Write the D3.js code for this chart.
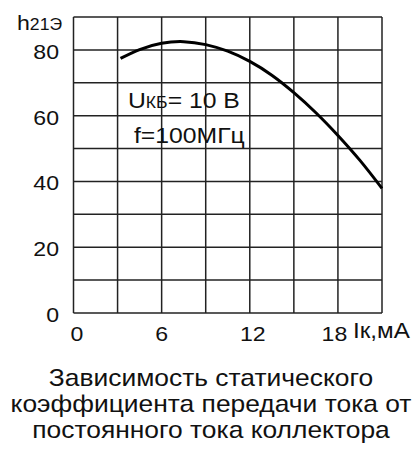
<!DOCTYPE html>
<html>
<head>
<meta charset="utf-8">
<script src="https://cdn.jsdelivr.net/npm/d3@7"></script>
<style>
  body { margin: 0; background: #fff; }
  text { font-family: "Liberation Sans", Arial, sans-serif; fill: #111; }
</style>
</head>
<body>
<div class="chart"></div>
<script>
var svgWidth = 416;
var svgHeight = 453;

// values
var currentMA = [3.2, 4.5, 6, 7.5, 9, 10.5, 12, 13.5, 15, 16.5, 18, 19.5, 21];
var h21e = [77.4, 80.1, 82, 82.5, 81.6, 79.6, 76.5, 72.3, 67.0, 60.9, 54.0, 46.4, 37.9];
var yTicks = [0, 20, 40, 60, 80];
var xTicks = [0, 6, 12, 18];
var xGrid = [0, 3, 6, 9, 12, 15, 18, 21];
var yGrid = [0, 10, 20, 30, 40, 50, 60, 70, 80, 90];
var captionLines = ["Зависимость статического", "коэффициента передачи тока от", "постоянного тока коллектора"];

// the source lettering is a bit wider than Arial
var stretch = 1.1;
function place(x, y) {
  return "translate(" + x + "," + y + ") scale(" + stretch + ",1)";
}

var svg = d3.select(".chart")
  .append("svg")
  .attr("width", svgWidth)
  .attr("height", svgHeight);

var xScale = d3.scaleLinear().domain([0, 21]).range([73.5, 382]);
var yScale = d3.scaleLinear().domain([0, 90]).range([313, 17]);

// grid
svg.selectAll(".vgrid")
  .data(xGrid)
  .enter().append("line")
    .attr("x1", function(d) { return xScale(d); })
    .attr("x2", function(d) { return xScale(d); })
    .attr("y1", yScale(0))
    .attr("y2", yScale(90))
    .attr("stroke", "#222")
    .attr("stroke-width", 1.5);

svg.selectAll(".hgrid")
  .data(yGrid)
  .enter().append("line")
    .attr("y1", function(d) { return yScale(d); })
    .attr("y2", function(d) { return yScale(d); })
    .attr("x1", xScale(0))
    .attr("x2", xScale(21))
    .attr("stroke", "#222")
    .attr("stroke-width", 1.5);

// curve
var line = d3.line()
  .x(function(d, i) { return xScale(currentMA[i]); })
  .y(function(d) { return yScale(d); })
  .curve(d3.curveNatural);

svg.append("path")
  .datum(h21e)
  .attr("d", line)
  .attr("fill", "none")
  .attr("stroke", "#000")
  .attr("stroke-width", 3);

// y tick labels
svg.selectAll(".ylab")
  .data(yTicks)
  .enter().append("text")
    .attr("transform", function(d) { return place(59, yScale(d) + 9); })
    .attr("text-anchor", "end")
    .attr("font-size", 21)
    .text(function(d) { return d; });

// x tick labels
var xLabelShift = { 0: 3.5, 6: 0, 12: 3, 18: -3.5 };
svg.selectAll(".xlab")
  .data(xTicks)
  .enter().append("text")
    .attr("transform", function(d) { return place(xScale(d) + xLabelShift[d], 341); })
    .attr("text-anchor", "middle")
    .attr("font-size", 21)
    .text(function(d) { return d; });

// axis titles
var yTitle = svg.append("text")
  .attr("transform", place(17, 30))
  .attr("font-size", 21);
yTitle.append("tspan").text("h");
yTitle.append("tspan").attr("font-size", 16).text("21Э");

svg.append("text")
  .attr("transform", place(353, 338))
  .attr("font-size", 22)
  .text("Iк,мА");

// conditions
var cond = svg.append("text")
  .attr("transform", place(128, 108))
  .attr("font-size", 22.5);
cond.append("tspan").text("U");
cond.append("tspan").attr("font-size", 16).text("КБ");
cond.append("tspan").text("= 10 В");

svg.append("text")
  .attr("transform", place(134, 143))
  .attr("font-size", 22.5)
  .text("f=100МГц");

// caption
svg.selectAll(".caption")
  .data(captionLines)
  .enter().append("text")
    .attr("transform", function(d, i) { return place(211, 386 + i * 26); })
    .attr("text-anchor", "middle")
    .attr("font-size", 24)
    .text(function(d) { return d; });
</script>
</body>
</html>
